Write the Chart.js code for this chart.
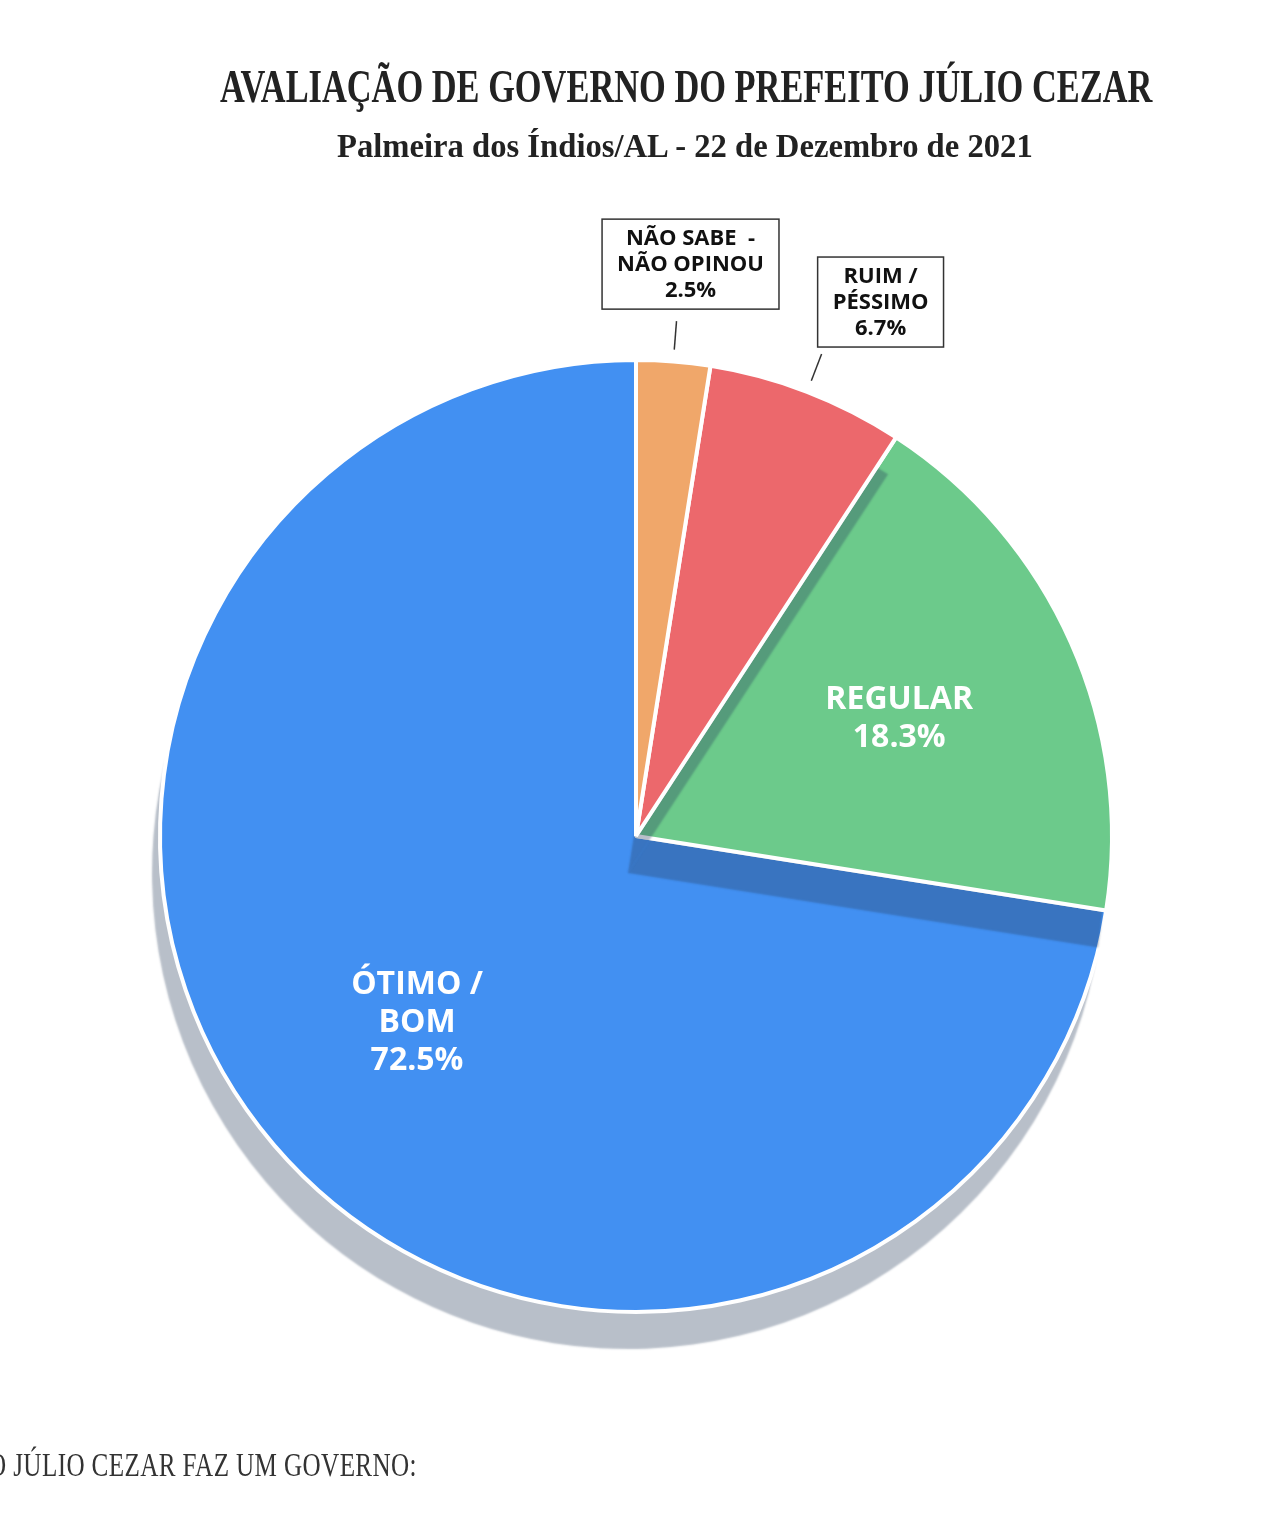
<!DOCTYPE html>
<html lang="pt-BR">
<head>
    <meta charset="UTF-8">
    <script src="https://cdn.jsdelivr.net/npm/chart.js"></script>
    <title>Avaliação de Governo</title>
    <style>
        body {
            margin: 0;
            width: 1284px;
            height: 1531px;
            background: #fff;
            overflow: hidden;
            position: relative;
            font-family: "Liberation Serif", serif;
        }
        #wrap {
            position: absolute;
            left: 0;
            top: 0;
            width: 1284px;
            height: 1531px;
        }
        .txt {
            position: absolute;
            white-space: nowrap;
            color: #222;
            transform-origin: left top;
            z-index: 2;
        }
        #title { font-weight: bold; font-size: 47px; line-height: 47px; top: 63px; }
        #subtitle { font-weight: bold; font-size: 34px; line-height: 34px; top: 129px; }
        #bottom { font-size: 33px; line-height: 33px; top: 1449px; letter-spacing: 0.5px; color: #333; }
    </style>
</head>
<body>
<div id="title" class="txt">AVALIAÇÃO DE GOVERNO DO PREFEITO JÚLIO CEZAR</div>
<div id="subtitle" class="txt">Palmeira dos Índios/AL - 22 de Dezembro de 2021</div>
<div id="bottom" class="txt">O JÚLIO CEZAR FAZ UM GOVERNO:</div>
<div id="wrap"><canvas id="pie"></canvas></div>
<script>
    // data, clockwise from the top
    const labelLines = [['NÃO SABE  -', 'NÃO OPINOU'], ['RUIM /', 'PÉSSIMO'], ['REGULAR'], ['ÓTIMO /', 'BOM']];
    const values = [2.5, 6.7, 18.3, 72.5];
    const colors = ['#F0A76A', '#EC686C', '#6CCA8B', '#4290F2'];

    // stretch the serif headings to the widths seen in the picture
    function fit(id, left, width) {
        const el = document.getElementById(id);
        el.style.left = left + 'px';
        el.style.transform = 'scaleX(' + (width / el.offsetWidth) + ')';
    }
    fit('title', 220, 932);
    fit('subtitle', 337, 696);
    fit('bottom', -12, 429);

    // draws slices last-to-first, each with a hard drop shadow (not for the small orange one)
    const pieShadow = {
        id: 'pieShadow',
        beforeDatasetDraw(chart, args) {
            const ctx = chart.ctx;
            const arcs = args.meta.data;
            for (let i = arcs.length - 1; i >= 0; i--) {
                const arc = arcs[i];
                const opts = arc.options;
                if (i > 0) {
                    ctx.save();
                    ctx.shadowColor = 'rgba(40, 60, 90, 0.33)';
                    ctx.shadowOffsetX = -8;
                    ctx.shadowOffsetY = 37;
                    ctx.shadowBlur = 2;
                    arc.options = Object.assign({}, opts, {borderWidth: 0});
                    arc.draw(ctx);
                    arc.options = opts;
                    ctx.restore();
                }
                arc.draw(ctx);
            }
            return false;
        }
    };

    // nudges of the callout boxes from the end of their leader lines
    const boxShift = [[14, -57], [59, -52]];

    const sliceLabels = {
        id: 'sliceLabels',
        afterDatasetsDraw(chart) {
            const ctx = chart.ctx;
            const arcs = chart.getDatasetMeta(0).data;
            arcs.forEach((arc, i) => {
                const p = arc.getProps(['x', 'y', 'startAngle', 'endAngle', 'outerRadius']);
                const mid = (p.startAngle + p.endAngle) / 2;
                const lines = labelLines[i].concat([values[i].toFixed(1) + '%']);
                ctx.save();
                ctx.textAlign = 'center';
                ctx.textBaseline = 'middle';
                if (values[i] > 10) {
                    const cx = p.x + Math.cos(mid) * p.outerRadius * 0.605;
                    const cy = p.y + Math.sin(mid) * p.outerRadius * 0.605;
                    ctx.font = 'bold 32px "Open Sans"';
                    ctx.fillStyle = '#fff';
                    const lh = 38;
                    lines.forEach((t, k) => {
                        ctx.fillText(t, cx, cy + (k - (lines.length - 1) / 2) * lh);
                    });
                } else {
                    const r1 = p.outerRadius * 1.025, r2 = p.outerRadius * 1.085;
                    const ex = p.x + Math.cos(mid) * r2, ey = p.y + Math.sin(mid) * r2;
                    ctx.strokeStyle = '#333';
                    ctx.lineWidth = 1.5;
                    ctx.beginPath();
                    ctx.moveTo(p.x + Math.cos(mid) * r1, p.y + Math.sin(mid) * r1);
                    ctx.lineTo(ex, ey);
                    ctx.stroke();

                    ctx.font = 'bold 22px "Open Sans"';
                    const lh = 26;
                    const w = Math.max(...lines.map(t => ctx.measureText(t).width)) + 30;
                    const h = lines.length * lh + 12;
                    const bx = ex + boxShift[i][0], by = ey + boxShift[i][1];
                    ctx.fillStyle = '#fff';
                    ctx.fillRect(bx - w / 2, by - h / 2, w, h);
                    ctx.strokeRect(bx - w / 2, by - h / 2, w, h);
                    ctx.fillStyle = '#111';
                    lines.forEach((t, k) => {
                        ctx.fillText(t, bx, by + (k - (lines.length - 1) / 2) * lh + 1);
                    });
                }
                ctx.restore();
            });
        }
    };

    new Chart(document.getElementById('pie'), {
        type: 'pie',
        data: {
            labels: labelLines.map(l => l.join(' ')),
            datasets: [{
                data: values,
                backgroundColor: colors,
                borderColor: '#fff',
                borderWidth: 4
            }]
        },
        options: {
            responsive: true,
            maintainAspectRatio: false,
            animation: false,
            events: [],
            radius: 476,
            layout: {padding: {left: 136, right: 148, top: 336, bottom: 195}},
            plugins: {
                legend: {display: false},
                tooltip: {enabled: false}
            }
        },
        plugins: [pieShadow, sliceLabels]
    });
</script>
</body>
</html>
